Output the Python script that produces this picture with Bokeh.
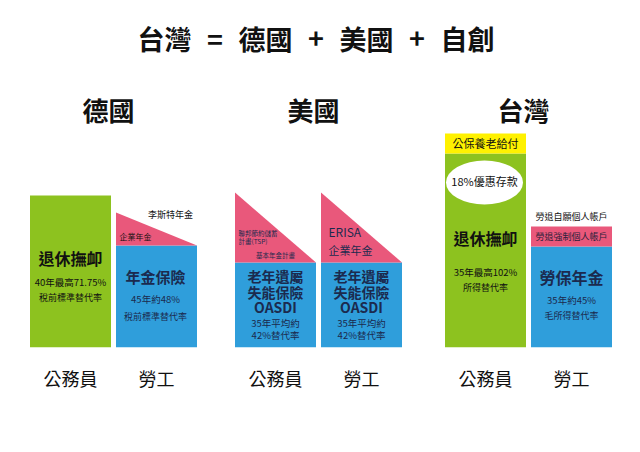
from bokeh.plotting import figure
from bokeh.models import Range1d, LinearAxis, FixedTicker
from bokeh.core.properties import value
from bokeh.embed import file_html
from bokeh.resources import INLINE

# ---------------- data ----------------
title_tokens = ["台灣", "=", "德國", "+", "美國", "+", "自創"]
countries = ["德國", "美國", "台灣"]
members = ["公務員", "勞工"]
# bars in order: 德國公務員, 德國勞工, 美國公務員, 美國勞工, 台灣公務員, 台灣勞工
tier1_kind = ["civil", "social", "social", "social", "civil", "social"]
tier1_height = [152, 102, 85, 85, 194, 101]
tier2_kind = [None, "occupational", "occupational", "occupational", "gov", "occupational"]
tier2_left = [None, 135, 155, 155, 214, 121]
tier2_right = [None, 102, 85, 85, 214, 121]

# ---------------- layout / style ----------------
FONT = "Noto Sans CJK TC"
GREEN, BLUE, PINK, YELLOW = "#8dc21f", "#2f9edb", "#e9587b", "#fff100"
NAVY, BLACK = "#1b2a4e", "#111111"
kind_color = {"civil": GREEN, "social": BLUE, "occupational": PINK, "gov": YELLOW}
GROUP_X = [113, 318, 528]
MEMBER_DX = [-43, 43]
BAR_W = 81

centers = [g + d for g in GROUP_X for d in MEMBER_DX]
labels = [m for _ in countries for m in members]

p = figure(width=632, height=444, output_backend="svg", toolbar_location=None,
           x_axis_type=None, y_axis_type=None,
           x_range=Range1d(0, 632), y_range=Range1d(0, 347),
           min_border_left=0, min_border_right=0, min_border_top=0,
           min_border_bottom=97)
p.outline_line_color = None
p.background_fill_color = "white"
p.border_fill_color = "white"

# tier 1 bars
p.vbar(x=centers, top=tier1_height, bottom=0, width=BAR_W,
       color=[kind_color[k] for k in tier1_kind], line_color=None)

# tier 2 (triangles / rects on top)
xs, ys, cols = [], [], []
for c, k, h1, tl, tr in zip(centers, tier2_kind, tier1_height, tier2_left, tier2_right):
    if k is None:
        continue
    l, r = c - BAR_W / 2, c + BAR_W / 2
    xs.append([l, l, r, r])
    ys.append([h1, tl, tr, h1])
    cols.append(kind_color[k])
p.patches(xs=xs, ys=ys, fill_color=cols, line_color=None)

# white ellipse for 18% deposit (Taiwan civil servants)
p.ellipse(x=[centers[4] - 1], y=[165], width=77, height=44, fill_color="white", line_color=None)


def add_text(x, y, t, size, bold=False, color=BLACK, align="center"):
    p.text(x=[x], y=[y + 0.13 * size], text=[t], text_font=value(FONT),
           text_font_size=f"{size}px", text_font_style="bold" if bold else "normal",
           text_color=color, text_align=align, text_baseline="middle")


# title and country names
for i, tok in enumerate(title_tokens):
    add_text(164 + i * 50.5, 305, tok, 27, bold=True)
for g, name in zip(GROUP_X, countries):
    add_text(g - 5, 235, name, 26, bold=True)

# Germany civil servants
c = centers[0]
add_text(c, 87, "退休撫卹", 16, bold=True)
add_text(c, 64, "40年最高71.75%", 9.5)
add_text(c, 49, "稅前標準替代率", 9)
# Germany workers
c = centers[1]
add_text(c + 14, 132, "李斯特年金", 9)
add_text(c - 21, 110, "企業年金", 8)
add_text(c - 1, 69, "年金保險", 15, bold=True, color=NAVY)
add_text(c - 1, 47, "45年約48%", 9.5, color=NAVY)
add_text(c - 1, 30, "稅前標準替代率", 9, color=NAVY)
# USA
c = centers[2]
add_text(c - 37, 114, "聯邦節約儲蓄", 6.5, align="left", color=NAVY)
add_text(c - 37, 106, "計畫(TSP)", 6.5, align="left", color=NAVY)
add_text(c, 92, "基本年金計畫", 6.5, color=NAVY)
c = centers[3]
add_text(c - 33, 114, "ERISA", 12, align="left", color=NAVY)
add_text(c - 33, 96, "企業年金", 11, align="left", color=NAVY)
for c in centers[2:4]:
    add_text(c, 70, "老年遺屬", 14, bold=True, color=NAVY)
    add_text(c, 54, "失能保險", 14, bold=True, color=NAVY)
    add_text(c, 39, "OASDI", 14, bold=True, color=NAVY)
    add_text(c, 23, "35年平均約", 9.5, color=NAVY)
    add_text(c, 11, "42%替代率", 9.5, color=NAVY)
# Taiwan civil servants
c = centers[4]
add_text(c, 203, "公保養老給付", 11)
add_text(c - 1, 165, "18%優惠存款", 11)
add_text(c, 107, "退休撫卹", 16, bold=True)
add_text(c, 74, "35年最高102%", 9.5)
add_text(c, 59, "所得替代率", 9)
# Taiwan workers
c = centers[5]
add_text(c, 130, "勞退自願個人帳戶", 9)
add_text(c, 110, "勞退強制個人帳戶", 9, color="#2a1f3a")
add_text(c, 68, "勞保年金", 16, bold=True, color=NAVY)
add_text(c, 46, "35年約45%", 9.5, color=NAVY)
add_text(c, 31, "毛所得替代率", 9, color=NAVY)

# category axis (公務員 / 勞工)
ax = LinearAxis(ticker=FixedTicker(ticks=centers),
                major_label_overrides={x: t for x, t in zip(centers, labels)})
ax.axis_line_color = None
ax.major_tick_line_color = None
ax.minor_tick_line_color = None
ax.major_tick_out = 0
ax.major_tick_in = 0
ax.major_label_standoff = 17
ax.major_label_text_font = FONT
ax.major_label_text_font_size = "18px"
ax.major_label_text_color = BLACK
p.add_layout(ax, "below")

open("out.html", "w").write(file_html(p, INLINE))
